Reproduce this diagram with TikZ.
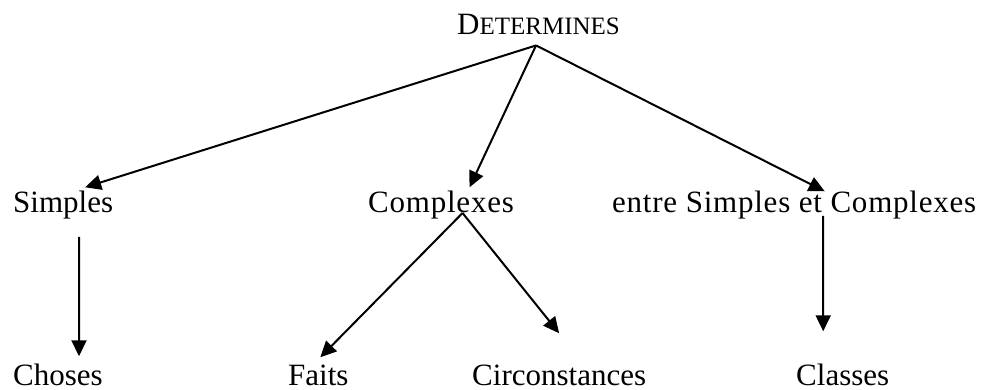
\documentclass[tikz,border=0pt]{standalone}
\usepackage{fontspec}
\setmainfont{Liberation Serif}
\usetikzlibrary{arrows.meta,positioning}
\tikzset{
  %Define standard arrow tip
  >={Triangle[length=16pt,width=15pt]},
  %Define style for labels
  mot/.style={
    inner sep=0pt,
    anchor=base west,
    font=\fontsize{31}{37}\selectfont},
  %wider words
  large mot/.style={
    mot,
    font=\fontsize{31}{37}\selectfont\addfontfeature{LetterSpace=2.5}},
  % Define arrow style
  pil/.style={
    ->,
    line width=2pt}
}
\begin{document}
\begin{tikzpicture}[x=1pt,y=-1pt]
      \useasboundingbox (0,0) rectangle (985,390);
      \node[mot] (det) at (457,35) {D\fontsize{25}{30}\selectfont ETERMINES};
      \node[mot] (simples) at (13,213) {Simples};
      \node[large mot] (complexes) at (368,213) {Complexes};
      \node[large mot] (entre) at (612,213) {entre Simples et Complexes};
      \node[mot] (choses) at (13,385) {Choses};
      \node[mot] (faits) at (288,385) {Faits};
      \node[mot] (circ) at (472,385) {Circonstances};
      \node[mot] (classes) at (796,385) {Classes};
      \path[pil]
      ([xshift=-2.5pt,yshift=-10pt]det.south) edge ([xshift=22pt,yshift=4pt]simples.north)
      ([xshift=-2.5pt,yshift=-10pt]det.south) edge ([xshift=28.5pt,yshift=4pt]complexes.north)
      ([xshift=-2.5pt,yshift=-10pt]det.south) edge ([xshift=30.5pt]entre.north)
      ([xshift=16pt,yshift=-17pt]simples.south) edge ([xshift=21pt,yshift=7pt]choses.north)
      ([xshift=21.5pt]complexes.base) edge ([xshift=2pt,yshift=7pt]faits.north)
      ([xshift=21.5pt]complexes.base) edge ([yshift=31pt]circ.north)
      ([xshift=29pt,yshift=4pt]entre.south) edge ([xshift=-19.5pt,yshift=32pt]classes.north)
      ;
    \end{tikzpicture}
\end{document}
